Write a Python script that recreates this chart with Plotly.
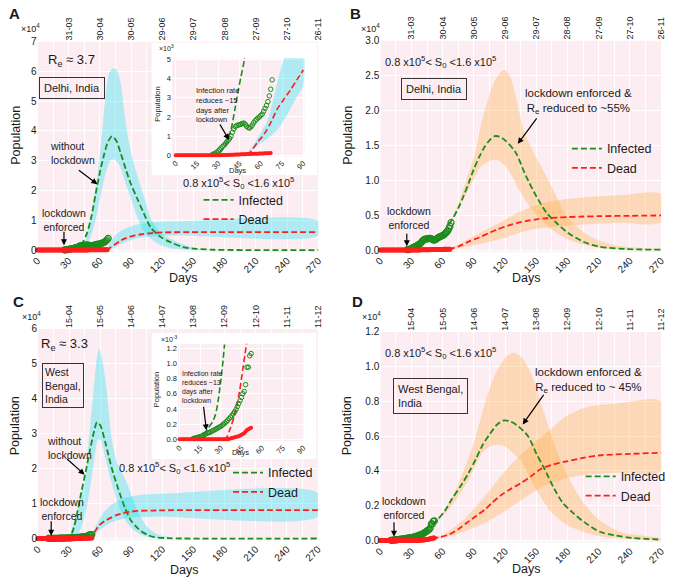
import plotly.graph_objects as go

W, H = 677, 582

# ---------------- data ----------------
top_days = [30, 60, 90, 120, 150, 180, 210, 240, 270]
delhi_dates = ["31-03", "30-04", "30-05", "29-06", "29-07", "28-08", "27-09", "27-10", "26-11"]
wb_dates = ["15-04", "15-05", "14-06", "14-07", "13-08", "12-09", "12-10", "11-11", "11-12"]

# observed data (x10^3)
delhi_inf = [0.05, 0.07, 0.1, 0.17, 0.22, 0.3, 0.38, 0.45, 0.52, 0.6, 0.7, 0.78, 0.88, 1.0,
             1.2, 1.37, 1.5, 1.55, 1.58, 1.6, 1.62, 1.66, 1.68, 1.62, 1.52, 1.45, 1.42, 1.48,
             1.58, 1.7, 1.8, 1.88, 1.95, 2.0, 2.08, 2.15, 2.3, 2.45, 2.6, 2.8, 3.1, 3.45, 3.94]
delhi_inf_days = list(range(26, 26 + len(delhi_inf)))
delhi_dead = [0, 0, 0, 0, 0, 0, 0, 0, 0, 0, 0, 0, 0, 0, 0, 0, 0, 0, 0, 0, 0, 0, 0, 0, 0, 0, 0, 0, 0, 0,
              0.005, 0.006, 0.008, 0.01, 0.012, 0.015, 0.017, 0.02, 0.022, 0.026, 0.03, 0.032, 0.035,
              0.04, 0.042, 0.045, 0.05, 0.052, 0.055, 0.06, 0.062, 0.065, 0.068, 0.072, 0.075, 0.078,
              0.08, 0.083, 0.086, 0.09, 0.094, 0.097, 0.1, 0.103, 0.106, 0.11, 0.113, 0.116]
delhi_dead_days = list(range(0, len(delhi_dead)))
wb_inf = [0.01, 0.01, 0.02, 0.02, 0.03, 0.03, 0.04, 0.05, 0.06, 0.07, 0.08, 0.085, 0.09, 0.1,
          0.11, 0.12, 0.13, 0.14, 0.15, 0.16, 0.17, 0.185, 0.2, 0.215, 0.23, 0.25, 0.27, 0.29,
          0.31, 0.335, 0.36, 0.39, 0.43, 0.47, 0.51, 0.55, 0.6, 0.63, 0.72, 0.95, 0.95, 1.1, 1.13]
wb_inf_days = list(range(10, 10 + len(wb_inf)))
wb_dead = [0, 0, 0, 0, 0, 0, 0, 0, 0, 0, 0, 0, 0, 0, 0, 0, 0, 0, 0, 0, 0, 0, 0, 0, 0, 0, 0, 0, 0, 0,
           0, 0, 0, 0, 0, 0, 0.005, 0.01, 0.015, 0.02, 0.025, 0.03, 0.035, 0.04, 0.05, 0.06, 0.07,
           0.08, 0.1, 0.12, 0.13, 0.14, 0.15]
wb_dead_days = list(range(0, len(wb_dead)))

# ---- Panel A (Delhi, without lockdown) x10^4
A_inf_days = [0, 30, 36, 40, 44, 48, 52, 56, 60, 64, 68, 72, 76, 80, 85, 90, 96, 102, 109, 118, 128, 140, 153, 170, 200, 270]
A_inf = [0, 0, 0.03, 0.1, 0.28, 0.6, 1.15, 1.9, 2.6, 3.2, 3.65, 3.82, 3.65, 3.25, 2.7, 2.2, 1.72, 1.25, 0.75, 0.45, 0.26, 0.1, 0.04, 0.01, 0, 0]
A_inf_up_days = [40, 46, 50, 55, 59, 62, 65, 69, 73, 76, 80, 84, 88, 93, 103, 109, 118, 134, 153, 175]
A_inf_up = [0.0, 0.3, 0.9, 1.9, 2.9, 3.9, 5.0, 5.95, 6.1, 6.05, 5.6, 4.5, 3.6, 2.85, 1.72, 1.06, 0.6, 0.28, 0.05, 0.0]
A_inf_lo_days = [40, 45, 50, 55, 60, 65, 70, 73, 79, 85, 90, 96, 103, 110, 118, 130, 145]
A_inf_lo = [0.0, 0.1, 0.35, 0.9, 1.7, 2.5, 3.0, 3.05, 2.83, 2.2, 1.72, 1.1, 0.6, 0.35, 0.17, 0.05, 0.0]
A_dead_days = [66, 70, 75, 80, 85, 90, 100, 110, 120, 140, 270]
A_dead = [0.01, 0.08, 0.2, 0.32, 0.4, 0.46, 0.53, 0.57, 0.59, 0.6, 0.6]
A_dead_band_days = [66, 70, 75, 80, 85, 90, 100, 110, 120, 140, 270]
A_dead_up = [0.01, 0.25, 0.5, 0.63, 0.73, 0.8, 0.88, 0.93, 0.96, 0.97, 0.97]
A_dead_lo = [0.0, 0.03, 0.1, 0.2, 0.28, 0.34, 0.42, 0.46, 0.48, 0.49, 0.49]

# inset A (x10^3)
Ai_inf_days = [25, 30, 33, 36, 39, 42, 44, 46, 48.5, 50]
Ai_inf = [0.0, 0.05, 0.3, 0.7, 1.35, 2.5, 3.35, 4.1, 5.0, 5.6]
Ai_dead_days = [50, 53, 57.7, 62.3, 67, 71.5, 76, 80.8, 85.4, 90]
Ai_dead = [0.05, 0.2, 0.68, 1.1, 1.7, 2.4, 2.9, 3.4, 3.94, 4.45]
Ai_up_days = [50, 55, 60, 64, 67, 70.4, 73, 76, 80, 90]
Ai_up = [0.1, 0.55, 1.2, 1.7, 2.4, 3.42, 4.2, 4.97, 6.0, 8.0]
Ai_lo_days = [50, 57.7, 64.6, 70, 73.8, 80, 85, 90]
Ai_lo = [0.05, 0.51, 0.86, 1.2, 1.54, 2.3, 3.0, 3.7]

# ---- Panel B (Delhi, lockdown) x10^4
B_inf_days = [66, 70, 75, 80, 85, 90, 95, 100, 105, 110, 115, 120, 130, 140, 150, 160, 170, 180, 195, 210, 235, 270]
B_inf = [0.37, 0.46, 0.6, 0.77, 0.96, 1.16, 1.33, 1.47, 1.57, 1.63, 1.62, 1.57, 1.4, 1.06, 0.77, 0.53, 0.38, 0.25, 0.12, 0.05, 0.015, 0.005]
B_up_days = [66, 72, 78, 85, 91, 97, 104, 110, 119, 125, 131, 138, 148, 160, 170, 179, 195, 210, 226, 250, 270]
B_up = [0.37, 0.55, 0.8, 1.1, 1.38, 1.8, 2.18, 2.42, 2.58, 2.48, 2.15, 1.71, 1.38, 1.05, 0.75, 0.49, 0.26, 0.14, 0.07, 0.03, 0.01]
B_lo_days = [66, 75, 85, 97, 108, 115, 123, 135, 148, 164, 179, 195, 211, 240, 270]
B_lo = [0.37, 0.6, 0.87, 1.2, 1.29, 1.27, 1.15, 0.82, 0.54, 0.3, 0.16, 0.08, 0.03, 0.01, 0.0]
B_dead_days = [66, 75, 85, 95, 104, 113, 123, 132, 142, 150, 160, 170, 180, 195, 211, 240, 270]
B_dead = [0.01, 0.05, 0.12, 0.18, 0.24, 0.3, 0.35, 0.39, 0.42, 0.44, 0.455, 0.465, 0.472, 0.48, 0.485, 0.49, 0.495]
B_dband_days = [66, 80, 100, 116, 130, 148, 165, 179, 200, 230, 270]
B_dup = [0.01, 0.12, 0.28, 0.4, 0.52, 0.63, 0.7, 0.73, 0.76, 0.785, 0.8]
B_dlo = [0.01, 0.04, 0.1, 0.16, 0.23, 0.3, 0.33, 0.35, 0.37, 0.39, 0.4]

# ---- Panel C (West Bengal, without lockdown) x10^4
C_inf_days = [0, 25, 30, 32, 35, 38, 42, 46, 50, 54, 57, 60, 65, 71, 77, 84, 90, 95, 100, 106, 112, 125, 140, 270]
C_inf = [0, 0, 0.04, 0.1, 0.35, 0.75, 1.35, 1.9, 2.5, 3.05, 3.33, 3.25, 2.75, 2.03, 1.46, 0.87, 0.5, 0.33, 0.2, 0.1, 0.04, 0.01, 0, 0]
C_up_days = [30, 35, 40, 45, 49, 53.7, 57, 59, 62, 66.3, 71, 76, 81, 87, 96, 105, 115, 130]
C_up = [0.05, 0.5, 1.1, 1.6, 2.83, 4.25, 5.2, 5.43, 5.1, 4.25, 2.9, 2.2, 1.9, 1.5, 0.79, 0.35, 0.12, 0.02]
C_lo_days = [35, 40, 45, 50, 55, 58, 61, 65, 70, 74, 80, 86, 92, 100, 110, 120]
C_lo = [0.0, 0.2, 0.6, 1.4, 2.4, 2.85, 2.8, 2.3, 1.7, 1.3, 0.79, 0.45, 0.25, 0.1, 0.02, 0.0]
C_dead_days = [48, 52, 55, 58, 62, 65, 70, 75, 80, 85, 90, 96, 110, 130, 270]
C_dead = [0.01, 0.08, 0.2, 0.34, 0.45, 0.51, 0.59, 0.66, 0.71, 0.745, 0.77, 0.79, 0.8, 0.81, 0.81]
C_dband_days = [48, 55, 60, 65, 70, 75, 80, 90, 100, 120, 270]
C_dup = [0.02, 0.3, 0.6, 0.8, 0.95, 1.05, 1.12, 1.2, 1.25, 1.28, 1.3]
C_dlo = [0.01, 0.12, 0.25, 0.35, 0.45, 0.5, 0.55, 0.6, 0.61, 0.62, 0.63]

# inset C (x10^3)
Ci_inf_days = [12, 15, 18, 21, 24, 26, 28, 30, 31.5, 32.7]
Ci_inf = [0.0, 0.02, 0.07, 0.15, 0.23, 0.32, 0.5, 0.78, 1.02, 1.25]
Ci_dead_days = [32, 34, 37, 40, 43.6, 46, 48.3, 49]
Ci_dead = [0.0, 0.02, 0.15, 0.32, 0.63, 0.93, 1.21, 1.3]

# ---- Panel D (West Bengal, lockdown) x10^4
D_inf_days = [50, 55, 62, 69, 77, 85, 92, 98, 105, 112, 118, 125, 132, 142, 150, 158, 167, 175, 185, 195, 211, 225, 242, 270]
D_inf = [0.095, 0.12, 0.17, 0.24, 0.31, 0.39, 0.47, 0.545, 0.61, 0.665, 0.69, 0.685, 0.66, 0.6, 0.5, 0.41, 0.3, 0.22, 0.16, 0.11, 0.05, 0.03, 0.015, 0.005]
D_up_days = [50, 60, 70, 80, 91, 100, 110, 120, 128, 135, 145, 155, 163, 172, 182, 195, 210, 230, 270]
D_up = [0.095, 0.16, 0.26, 0.4, 0.58, 0.78, 0.95, 1.05, 1.08, 1.06, 0.96, 0.78, 0.63, 0.48, 0.35, 0.22, 0.12, 0.05, 0.01]
D_lo_days = [50, 60, 70, 85, 97.5, 105, 113, 120, 128, 135, 148, 164, 179, 195, 211, 240, 270]
D_lo = [0.095, 0.14, 0.21, 0.35, 0.5, 0.54, 0.55, 0.54, 0.5, 0.46, 0.31, 0.165, 0.09, 0.05, 0.025, 0.008, 0.0]
D_dead_days = [50, 58, 66, 75, 85, 93, 101, 108, 116, 125, 135, 145, 154, 165, 179, 195, 211, 240, 270]
D_dead = [0.012, 0.02, 0.034, 0.065, 0.11, 0.145, 0.18, 0.22, 0.26, 0.295, 0.33, 0.37, 0.41, 0.435, 0.455, 0.475, 0.49, 0.498, 0.505]
D_dband_days = [50, 60, 80, 100, 120, 140, 160, 180, 200, 230, 270]
D_dup = [0.012, 0.03, 0.12, 0.25, 0.4, 0.52, 0.62, 0.72, 0.77, 0.79, 0.8]
D_dlo = [0.012, 0.015, 0.05, 0.1, 0.17, 0.25, 0.32, 0.36, 0.38, 0.39, 0.4]

# ---------------- style ----------------
PINK = "#fcedf3"
GREEN = "#1c8c1c"
RED = "#ff1e1e"
CYAN = "rgba(0,225,240,0.3)"
ORANGE = "rgba(255,170,60,0.32)"
TXT = "#1a1a1a"
FONT = "Liberation Sans, Arial, sans-serif"
DASH = "6px,3px"


def px(x):
    return x / W


def py(y):
    return 1 - y / H


fig = go.Figure()


def band(xa, ya, up_d, up, lo_d, lo, color):
    fig.add_trace(go.Scatter(x=list(up_d) + list(lo_d)[::-1], y=list(up) + list(lo)[::-1],
                             xaxis=xa, yaxis=ya, mode="lines", fill="toself", fillcolor=color,
                             line=dict(width=0, shape="spline", smoothing=0.8),
                             showlegend=False, hoverinfo="skip"))


def model(xa, ya, d, v, color, name=None, legend=None, width=1.8):
    fig.add_trace(go.Scatter(x=d, y=v, xaxis=xa, yaxis=ya, mode="lines",
                             line=dict(color=color, width=width, dash=DASH, shape="spline", smoothing=0.8),
                             name=name, showlegend=name is not None,
                             legend=legend if legend else "legend", hoverinfo="skip"))


def obs(xa, ya, d, v, kind, size, lw=1.2):
    if kind == "inf":
        m = dict(symbol="circle-open", size=size, color=GREEN, line=dict(width=lw, color=GREEN))
    else:
        m = dict(symbol="circle", size=size, color=RED, line=dict(width=0))
    fig.add_trace(go.Scatter(x=d, y=v, xaxis=xa, yaxis=ya, mode="markers", marker=m,
                             showlegend=False, hoverinfo="skip", cliponaxis=False))


def to4(vals):
    return [v / 10 for v in vals]


# Panel A (xy)
band("x", "y", A_inf_up_days, A_inf_up, A_inf_lo_days, A_inf_lo, CYAN)
band("x", "y", A_dead_band_days, A_dead_up, A_dead_band_days, A_dead_lo, CYAN)
model("x", "y", A_inf_days, A_inf, GREEN, "Infected", "legend")
model("x", "y", A_dead_days, A_dead, RED, "Dead", "legend")
obs("x", "y", delhi_inf_days, to4(delhi_inf), "inf", 6)
obs("x", "y", delhi_dead_days, to4(delhi_dead), "dead", 5)

# Panel B (x2y2)
band("x2", "y2", B_up_days, B_up, B_lo_days, B_lo, ORANGE)
band("x2", "y2", B_dband_days, B_dup, B_dband_days, B_dlo, ORANGE)
model("x2", "y2", B_inf_days, B_inf, GREEN, "Infected", "legend2")
model("x2", "y2", B_dead_days, B_dead, RED, "Dead", "legend2")
obs("x2", "y2", delhi_inf_days, to4(delhi_inf), "inf", 6)
obs("x2", "y2", delhi_dead_days, to4(delhi_dead), "dead", 5)

# Panel C (x3y3)
band("x3", "y3", C_up_days, C_up, C_lo_days, C_lo, CYAN)
band("x3", "y3", C_dband_days, C_dup, C_dband_days, C_dlo, CYAN)
model("x3", "y3", C_inf_days, C_inf, GREEN, "Infected", "legend3")
model("x3", "y3", C_dead_days, C_dead, RED, "Dead", "legend3")
obs("x3", "y3", wb_inf_days, to4(wb_inf), "inf", 6)
obs("x3", "y3", wb_dead_days, to4(wb_dead), "dead", 5)

# Panel D (x4y4)
band("x4", "y4", D_up_days, D_up, D_lo_days, D_lo, ORANGE)
band("x4", "y4", D_dband_days, D_dup, D_dband_days, D_dlo, ORANGE)
model("x4", "y4", D_inf_days, D_inf, GREEN, "Infected", "legend4")
model("x4", "y4", D_dead_days, D_dead, RED, "Dead", "legend4")
obs("x4", "y4", wb_inf_days, to4(wb_inf), "inf", 6)
obs("x4", "y4", wb_dead_days, to4(wb_dead), "dead", 5)

# white box A (x5y5) + inset A (x6y6)
fig.add_trace(go.Scatter(x=[0, 1], y=[0, 1], xaxis="x5", yaxis="y5", mode="markers",
                         marker=dict(opacity=0), showlegend=False, hoverinfo="skip"))
band("x6", "y6", Ai_up_days, Ai_up, Ai_lo_days, Ai_lo, CYAN)
model("x6", "y6", Ai_inf_days, Ai_inf, GREEN, width=1.6)
model("x6", "y6", Ai_dead_days, Ai_dead, RED, width=1.6)
obs("x6", "y6", delhi_inf_days, delhi_inf, "inf", 4.5, 1)
obs("x6", "y6", delhi_dead_days, delhi_dead, "dead", 4)

# white box C (x7y7) + inset C (x8y8)
fig.add_trace(go.Scatter(x=[0, 1], y=[0, 1], xaxis="x7", yaxis="y7", mode="markers",
                         marker=dict(opacity=0), showlegend=False, hoverinfo="skip"))
model("x8", "y8", Ci_inf_days, Ci_inf, GREEN, width=1.6)
model("x8", "y8", Ci_dead_days, Ci_dead, RED, width=1.6)
obs("x8", "y8", wb_inf_days, wb_inf, "inf", 4.5, 1)
obs("x8", "y8", wb_dead_days, wb_dead, "dead", 4)

# helper traces for top date axes
for i, yref in zip([9, 10, 11, 12], ["y", "y2", "y3", "y4"]):
    fig.add_trace(go.Scatter(x=[top_days[0], top_days[-1]], y=[0, 0], xaxis="x%d" % i, yaxis=yref,
                             mode="markers", marker=dict(opacity=0), showlegend=False, hoverinfo="skip"))

# ---------------- axes ----------------
tickf = dict(size=10, color=TXT, family=FONT)
small = dict(size=7.5, color=TXT, family=FONT)


def main_x(l, r, anchor):
    return dict(domain=[px(l), px(r)], range=[0, 270], tick0=0, dtick=30, tickangle=-45,
                showgrid=True, gridcolor="white", gridwidth=1, zeroline=False, showline=False,
                ticks="", tickfont=tickf, anchor=anchor,
                minor=dict(dtick=15, showgrid=True, gridcolor="white", gridwidth=1))


def main_y(t, b, rng, dtick, fmt, anchor):
    return dict(domain=[py(b), py(t)], range=rng, dtick=dtick, tick0=0, tickformat=fmt,
                showgrid=True, gridcolor="white", gridwidth=1, zeroline=False, showline=False,
                ticks="", tickfont=tickf, anchor=anchor)


def top_x(over, yanchor, texts):
    return dict(overlaying=over, side="top", anchor=yanchor, range=[0, 270], tickmode="array",
                tickvals=top_days, ticktext=texts, tickangle=-90, showgrid=False, zeroline=False,
                ticks="", tickfont=dict(size=9, color=TXT, family=FONT))


def inset_x(l, r, rng, anchor):
    return dict(domain=[px(l), px(r)], range=rng, tickmode="array", tickvals=[0, 15, 30, 45, 60, 75, 90],
                tickangle=-45, showgrid=True, gridcolor="white", gridwidth=1, zeroline=False,
                ticks="", tickfont=small, anchor=anchor)


def inset_y(t, b, rng, dtick, fmt, anchor):
    return dict(domain=[py(b), py(t)], range=rng, dtick=dtick, tick0=0, tickformat=fmt,
                showgrid=True, gridcolor="white", gridwidth=1, zeroline=False, ticks="",
                tickfont=small, anchor=anchor)


RA = [-0.07, 7]
RB = [-0.03, 3.0]
RC = [-0.06, 6]
RD = [-0.012, 1.2]
RAi_x = [-2.6, 90.9]
RAi_y = [-0.07, 5.07]
RCi_x = [-1.2, 90.2]
RCi_y = [-0.026, 1.26]

fig.update_layout(
    xaxis=main_x(31, 317, "y"), yaxis=main_y(36, 250, RA, 1, "d", "x"),
    xaxis2=main_x(380, 666, "y2"), yaxis2=main_y(35, 250, RB, 0.5, ".1f", "x2"),
    xaxis3=main_x(31.5, 316.5, "y3"), yaxis3=main_y(328, 543, RC, 1, "d", "x3"),
    xaxis4=main_x(380, 666, "y4"), yaxis4=main_y(331, 545, RD, 0.2, ".1f", "x4"),
    xaxis5=dict(domain=[px(147), px(316)], range=[0, 1], visible=False, anchor="y5", fixedrange=True),
    yaxis5=dict(domain=[py(172), py(37)], range=[0, 1], visible=False, anchor="x5", fixedrange=True),
    xaxis6=inset_x(168, 303, RAi_x, "y6"), yaxis6=inset_y(53, 153, RAi_y, 1, "d", "x6"),
    xaxis7=dict(domain=[px(147), px(315)], range=[0, 1], visible=False, anchor="y7", fixedrange=True),
    yaxis7=dict(domain=[py(460), py(332)], range=[0, 1], visible=False, anchor="x7", fixedrange=True),
    xaxis8=inset_x(174, 302, RCi_x, "y8"), yaxis8=inset_y(343, 442, RCi_y, 0.2, ".1f", "x8"),
    xaxis9=top_x("x", "y", delhi_dates),
    xaxis10=top_x("x2", "y2", delhi_dates),
    xaxis11=top_x("x3", "y3", wb_dates),
    xaxis12=top_x("x4", "y4", wb_dates),
)

# backgrounds
shapes = []
for xr, yr, xrng, yrng, col in [("x", "y", [0, 270], RA, PINK), ("x2", "y2", [0, 270], RB, PINK),
                                ("x3", "y3", [0, 270], RC, PINK), ("x4", "y4", [0, 270], RD, PINK),
                                ("x5", "y5", [0, 1], [0, 1], "white"), ("x6", "y6", RAi_x, RAi_y, PINK),
                                ("x7", "y7", [0, 1], [0, 1], "white"), ("x8", "y8", RCi_x, RCi_y, PINK)]:
    shapes.append(dict(type="rect", xref=xr, yref=yr, x0=xrng[0], x1=xrng[1], y0=yrng[0], y1=yrng[1],
                       fillcolor=col, line=dict(width=0), layer="below"))

# ---------------- annotations ----------------
anns = []


def ann(text, x, y, size=11, xanchor="center", align="center", bold=False, box=False, pad=4, angle=0):
    d = dict(text=("<b>%s</b>" % text) if bold else text, x=px(x), y=py(y), xref="paper", yref="paper",
             showarrow=False, font=dict(size=size, color=TXT, family=FONT), xanchor=xanchor,
             yanchor="middle", align=align, textangle=angle)
    if box:
        d.update(bordercolor="#333", borderwidth=1, borderpad=pad, bgcolor="rgba(0,0,0,0)")
    anns.append(d)


def arrow(tail, head):
    anns.append(dict(text="", x=px(head[0]), y=py(head[1]), xref="paper", yref="paper",
                     ax=tail[0] - head[0], ay=tail[1] - head[1], axref="pixel", ayref="pixel",
                     showarrow=True, arrowhead=2, arrowsize=1, arrowwidth=1.2, arrowcolor="black"))


S0 = "0.8 x10<sup>5</sup>< S<sub>0</sub> <1.6 x10<sup>5</sup>"

# panel letters and exponents
ann("A", 8, 8, 15, bold=True)
ann("B", 355, 8, 15, bold=True)
ann("C", 12, 300, 15, bold=True)
ann("D", 357, 300, 15, bold=True)
ann("×10<sup>4</sup>", 24, 22, 9)
ann("×10<sup>4</sup>", 370, 22, 9)
ann("×10<sup>4</sup>", 25, 315, 9)
ann("×10<sup>4</sup>", 371, 315, 9)

# axis titles
for x, y in [(9, 131), (347, 131), (9, 426), (347, 426)]:
    ann("Population", x, y, 12.5, angle=-90)
for x, y in [(179, 276), (528, 276), (180, 573), (528, 572)]:
    ann("Days", x, y, 12.5)

# Panel A
ann("R<sub>e</sub> ≈ 3.7", 66, 55, 13)
ann("Delhi, India", 66, 83, 11, box=True, pad=4)
ann("without<br>lockdown", 42, 149, 10.5, xanchor="left", align="left")
arrow((72, 166), (92, 181))
ann("lockdown<br>enforced", 58, 217, 10.5)
arrow((58, 228), (58, 243))
ann(S0, 236, 180, 11)
# inset A
ann("×10<sup>3</sup>", 162, 43, 7)
ann("Population", 153, 100, 7.5, angle=-90)
ann("Days", 235, 167, 7.5)
ann("Infection rate<br>reduces ~15<br>days after<br>lockdown", 190, 101, 7.5, xanchor="left", align="left")
arrow((216, 119), (226, 136))

# Panel B
ann(S0, 441, 57, 11)
ann("Delhi, India", 435, 84, 11, box=True, pad=4)
ann("lockdown enforced &<br>R<sub>e</sub> reduced to ~55%", 582, 97, 11.5)
arrow((540, 113), (520, 140))
ann("lockdown<br>enforced", 409, 215, 10.5)
arrow((407, 230), (407, 244))

# Panel C
ann("R<sub>e</sub> ≈ 3.3", 59, 344, 13)
ann("West<br>Bengal,<br>India", 36, 385, 10.5, xanchor="left", align="left", box=True, pad=2)
ann("without<br>lockdown", 39, 449, 10.5, xanchor="left", align="left")
arrow((60, 459), (79, 476))
ann(S0, 171, 469, 11)
ann("lockdown<br>enforced", 56, 511, 10.5)
arrow((45, 522), (45, 538))
# inset C
ann("×10<sup>-3</sup>", 165, 338, 7)
ann("Population", 153, 390, 7.5, angle=-90)
ann("Days", 238, 454, 7.5)
ann("Infection rate<br>reduces ~13<br>days after<br>lockdown", 176, 387, 7, xanchor="left", align="left")
arrow((200, 406), (203, 431))

# Panel D
ann(S0, 441, 352, 11)
ann("West Bengal,<br>India", 393, 396, 11, xanchor="left", align="left", box=True, pad=4)
ann("lockdown enforced &<br>R<sub>e</sub> reduced to ~ 45%", 592, 380, 11.5)
arrow((547, 394), (525, 425))
ann("lockdown<br>enforced", 404, 510, 10.5)
arrow((394, 523), (394, 539))


def leg(x, y):
    return dict(x=px(x), y=py(y), xanchor="left", yanchor="top", bgcolor="rgba(0,0,0,0)",
                font=dict(size=12.5, color=TXT, family=FONT), tracegroupgap=0, borderwidth=0)


fig.update_layout(
    width=W, height=H, margin=dict(l=0, r=0, t=0, b=0),
    paper_bgcolor="white", plot_bgcolor="rgba(0,0,0,0)",
    font=dict(family=FONT, color=TXT),
    shapes=shapes, annotations=anns, hovermode=False,
    legend=leg(195, 182), legend2=leg(570, 130), legend3=leg(225, 459), legend4=leg(584, 463),
)

fig.write_html("out.html", config={"displayModeBar": False},
               post_script="document.body.style.margin='0';document.body.style.overflow='hidden';")
